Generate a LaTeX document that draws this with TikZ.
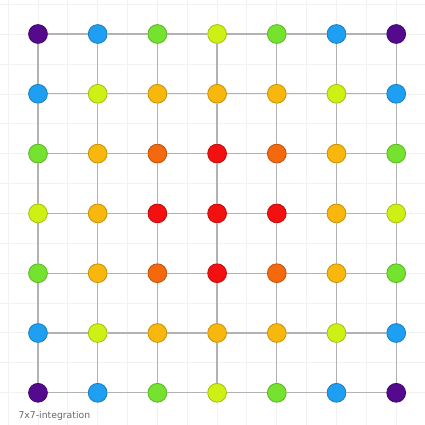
\documentclass[tikz,border=0pt]{standalone}
\usepackage{fontspec}
\setsansfont{DejaVu Sans}
\usepackage{tikz}
\usetikzlibrary{positioning}

\definecolor{lvzero}{HTML}{530A8C}
\definecolor{lvone}{HTML}{1E9FF2}
\definecolor{lvtwo}{HTML}{74E22E}
\definecolor{lvthree}{HTML}{CFF014}
\definecolor{lvfour}{HTML}{F7B70C}
\definecolor{lvfive}{HTML}{F4680E}
\definecolor{lvsix}{HTML}{F21010}

\begin{document}
\begin{tikzpicture}[
        pt/.style={circle, draw=#1!80!black, fill=#1, line width=0.6pt, minimum size=0.47cm, inner sep=0pt},
        link/.style={draw=gray!60, line width=0.9pt},
        bggrid/.style={draw=gray!10, line width=0.4pt}
    ]
        \useasboundingbox (0,0) rectangle (10.625,10.625);
        % faint background grid
        \foreach \k in {0,...,13}
            \draw[bggrid] (0.2+0.746*\k,0) -- (0.2+0.746*\k,10.625)
                          (0,10.625-0.11-0.746*\k) -- (10.625,10.625-0.11-0.746*\k);
        % nodes, row by row
        \foreach \row [count=\j from 0] in {
                {lvzero,lvone,lvtwo,lvthree,lvtwo,lvone,lvzero},
                {lvone,lvthree,lvfour,lvfour,lvfour,lvthree,lvone},
                {lvtwo,lvfour,lvfive,lvsix,lvfive,lvfour,lvtwo},
                {lvthree,lvfour,lvsix,lvsix,lvsix,lvfour,lvthree},
                {lvtwo,lvfour,lvfive,lvsix,lvfive,lvfour,lvtwo},
                {lvone,lvthree,lvfour,lvfour,lvfour,lvthree,lvone},
                {lvzero,lvone,lvtwo,lvthree,lvtwo,lvone,lvzero}}
            \foreach \c [count=\i from 0] in \row
                \node[pt=\c] (n-\i-\j) at (0.95+1.4925*\i, 9.775-1.495*\j) {};
        % links
        \foreach \k in {0,1,2,3,4,5,6}
            \foreach \a/\b in {0/1,1/2,2/3,3/4,4/5,5/6} {
                \path[link] (n-\k-\a) -- (n-\k-\b);
                \path[link] (n-\a-\k) -- (n-\b-\k);
            }
        \node[font=\sffamily\fontsize{6.6}{7}\selectfont, text=gray!80!black, anchor=west] (cap) at (0.34,0.22) {7x7-integration};
    \end{tikzpicture}
\end{document}
